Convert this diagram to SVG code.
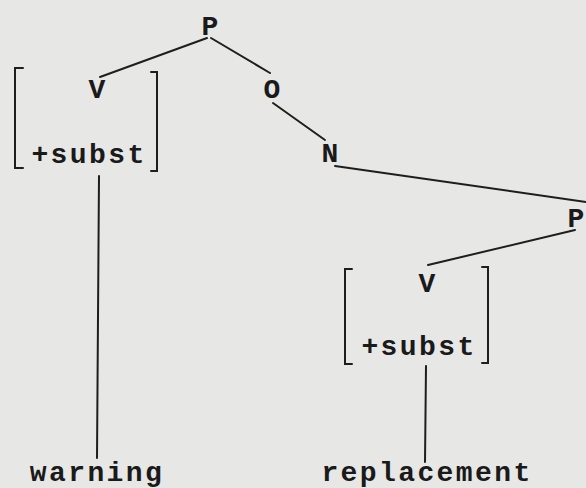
<svg xmlns="http://www.w3.org/2000/svg" width="586" height="488" viewBox="0 0 586 488">
<style>
.t{font-family:"Liberation Mono","Courier New",monospace;font-size:28px;letter-spacing:2.4px;font-weight:bold;fill:#1a1a1a;text-anchor:middle}
.l{stroke:#1e1e1e;stroke-width:2;fill:none;stroke-linecap:round}
</style>
<rect width="586" height="488" fill="#e7e7e5"/>
<g id="connectors">
<line class="l" x1="207" y1="38" x2="100" y2="77"/>
<line class="l" x1="211" y1="38" x2="270" y2="73"/>
<line class="l" x1="273" y1="103" x2="325" y2="140"/>
<line class="l" x1="335" y1="166" x2="586" y2="202"/>
<line class="l" x1="575" y1="230" x2="428" y2="265"/>
<line class="l" x1="99" y1="176" x2="97" y2="458"/>
<line class="l" x1="426" y1="366" x2="425" y2="462"/>
</g>
<g id="P1"><text class="t" x="211" y="35">P</text></g>
<g id="V1">
<path class="l" d="M23,68 H15 V168 H23"/>
<path class="l" d="M151,72 H157 V171 H151"/>
<text class="t" x="98" y="98">V</text>
<text class="t" x="89" y="163">+subst</text>
</g>
<g id="O"><text class="t" x="273" y="98">O</text></g>
<g id="N"><text class="t" x="331" y="162">N</text></g>
<g id="P2"><text class="t" x="577" y="227">P</text></g>
<g id="V2">
<path class="l" d="M352,269 H345 V364 H352"/>
<path class="l" d="M482,267 H488 V363 H482"/>
<text class="t" x="428" y="292">V</text>
<text class="t" x="419" y="355">+subst</text>
</g>
<g id="warning"><text class="t" x="97" y="481">warning</text></g>
<g id="replacement"><text class="t" x="427" y="481">replacement</text></g>
</svg>
